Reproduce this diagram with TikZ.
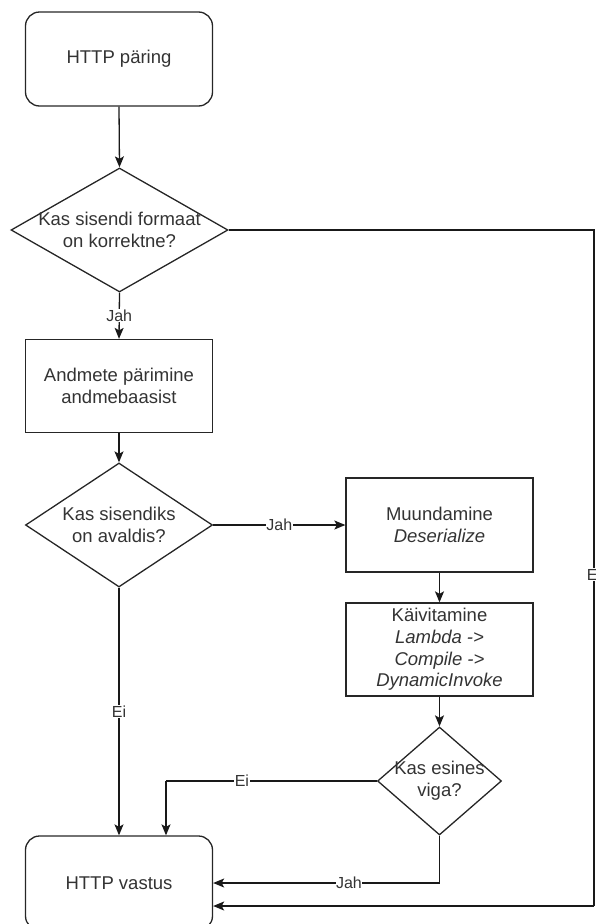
\documentclass[tikz,border=0pt]{standalone}
\usepackage{fontspec}
\setmainfont{Liberation Sans}
\usetikzlibrary{shapes.geometric,arrows.meta}
\begin{document}
\begin{tikzpicture}[x=1pt,y=-1pt,
  every node/.style={font=\fontsize{18.5}{21.7}\selectfont, text=black!80},
  box/.style={draw=black!85, line width=1.3pt, minimum width=187pt,
    minimum height=94pt, align=center, inner sep=2pt},
  terminal/.style={box, rounded corners=14pt},
  decision/.style={draw=black!85, line width=1.3pt, diamond, inner sep=0pt},
  dtext/.style={align=center, inner sep=0pt},
  conn/.style={draw=black!90, line width=1.3pt,
    -{Stealth[length=11pt,width=9pt,inset=2.5pt]}},
  plain/.style={draw=black!90, line width=1.3pt},
  lbl/.style={fill=white, inner sep=0.5pt, text=black!80,
    font=\fontsize{16}{18}\selectfont}
]
\useasboundingbox (0,0) rectangle (595,924);

% nodes
\node[terminal] (start) at (119,59) {HTTP päring};
\node[decision, minimum width=217pt, minimum height=124pt,
  label={[dtext]center:Kas sisendi formaat\\on korrektne?}] (d1) at (119.5,230) {};
\node[box, minimum height=93pt] (query) at (119,386) {Andmete pärimine\\andmebaasist};
\node[decision, minimum width=187pt, minimum height=124pt,
  label={[dtext]center:Kas sisendiks\\on avaldis?}] (d2) at (119,525) {};
\node[box] (conv) at (439.5,525) {Muundamine\\\textit{Deserialize}};
\node[box, minimum height=93pt] (run) at (439.5,649.5)
  {Käivitamine\\\textit{Lambda ->}\\\textit{Compile ->}\\\textit{DynamicInvoke}};
\node[decision, minimum width=124pt, minimum height=108pt,
  label={[dtext]center:Kas esines\\viga?}] (d3) at (439.5,781) {};
\node[terminal] (end) at (119,883) {HTTP vastus};

% helper points for routed connectors
\coordinate (rtop) at (594,230);
\coordinate (rbot) at (594,906);
\coordinate (eicorner) at (166,781);

% connectors
\draw[conn] (start.south) -- (d1.north);
\draw[conn] (d1.south) -- node[lbl]{Jah} (query.north);
\draw[conn] (query.south) -- (d2.north);
\draw[conn] (d2.east) -- node[lbl]{Jah} (conv.west);
\draw[conn] (conv.south) -- (run.north);
\draw[conn] (run.south) -- (d3.north);
\draw[conn] (d2.south) -- node[lbl]{Ei} (end.north);
\draw[plain] (d3.west) -- node[lbl,pos=0.64]{Ei} (eicorner);
\draw[conn] (eicorner) -- (eicorner |- end.north);
\draw[conn] (d3.south) |- node[lbl,pos=0.7]{Jah} (end.east);
\draw[plain] (d1.east) -- (rtop) -- node[lbl,pos=0.51]{Ei} (rbot);
\draw[conn] (rbot) -- (rbot -| end.east);
\end{tikzpicture}
\end{document}
